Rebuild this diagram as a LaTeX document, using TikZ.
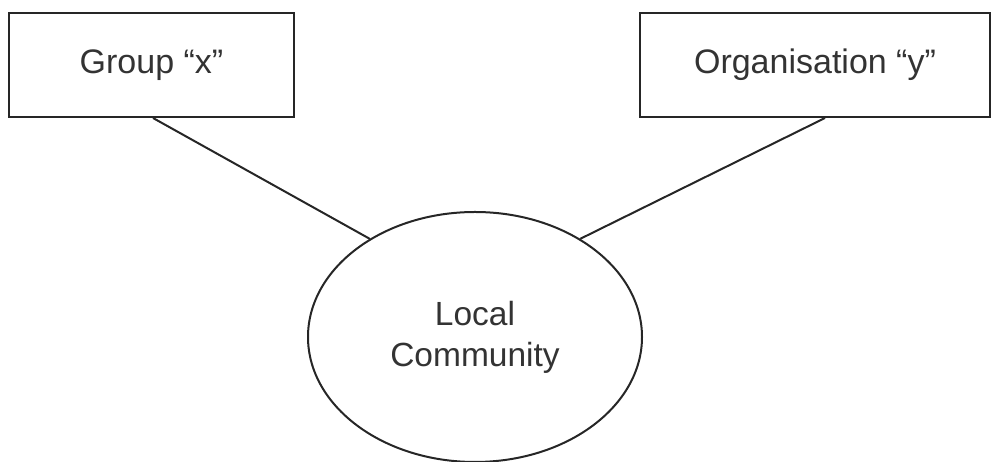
\documentclass[tikz,border=0pt]{standalone}
\usepackage{fontspec}
\setmainfont{Liberation Sans}
\usetikzlibrary{shapes.geometric}
\begin{document}
\begin{tikzpicture}[x=1pt,y=1pt,
  box/.style={draw=black!85, line width=2pt, minimum width=285pt, minimum height=104pt, inner sep=0pt, text=black!80, font=\fontsize{34}{42}\selectfont},
  oval/.style={ellipse, draw=black!85, line width=2pt, minimum width=334pt, minimum height=250pt, inner sep=0pt, align=center, text=black!80, font=\fontsize{33.5}{41}\selectfont},
  link/.style={draw=black!85, line width=2pt}]
\useasboundingbox (0,0) rectangle (997,462);
\node[box] (gx) at (151.5,397) {Group “x”};
\node[box, minimum width=350pt] (oy) at (815,397) {Organisation “y”};
\node[oval] (lc) at (475,125) {Local\\Community};
\draw[link] ([xshift=1.5pt]gx.south) -- (lc.137);
\draw[link] ([xshift=10pt]oy.south) -- (lc.43);
\end{tikzpicture}
\end{document}
